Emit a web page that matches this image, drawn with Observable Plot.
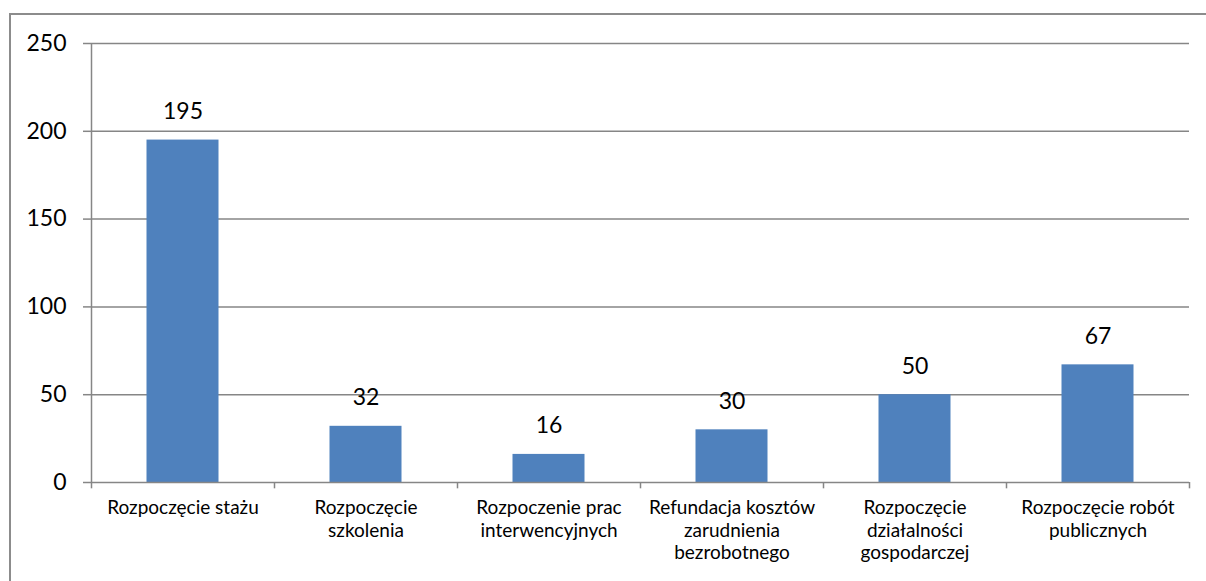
<!DOCTYPE html>
<html><head><meta charset="utf-8">
<script src="https://cdn.jsdelivr.net/npm/d3@7"></script>
<script src="https://cdn.jsdelivr.net/npm/@observablehq/plot@0.6"></script>
<style>
html,body{margin:0;padding:0;background:#fff;width:1206px;height:581px;overflow:hidden;}
#frame{position:absolute;left:9px;top:13px;width:1400px;height:800px;border-left:2px solid #8c8c8c;border-top:2px solid #8c8c8c;}
#chart{position:absolute;left:0;top:0;}
svg{font-family:Lato,"Open Sans",sans-serif;}
</style></head>
<body>
<div id="frame"></div>
<div id="chart"></div>
<script>
const categories = ["Rozpoczęcie stażu","Rozpoczęcie szkolenia","Rozpoczenie prac interwencyjnych","Refundacja kosztów zarudnienia bezrobotnego","Rozpoczęcie działalności gospodarczej","Rozpoczęcie robót publicznych"];
const tickLabels = ["Rozpoczęcie stażu","Rozpoczęcie\nszkolenia","Rozpoczenie prac\ninterwencyjnych","Refundacja kosztów\nzarudnienia\nbezrobotnego","Rozpoczęcie\ndziałalności\ngospodarczej","Rozpoczęcie robót\npublicznych"];
const values = [195, 32, 16, 30, 50, 67];
const yTicks = [0, 50, 100, 150, 200, 250];

const data = categories.map((c, i) => ({category: c, value: values[i]}));
const W = 1206, H = 581, mL = 91, mR = 17, mT = 43, mB = 99;
const bw = (W - mL - mR) / categories.length;
const gridColor = "#868686";

const chart = Plot.plot({
  width: W, height: H,
  marginLeft: mL, marginRight: mR, marginTop: mT, marginBottom: mB,
  style: {fontFamily: "Lato, 'Open Sans', sans-serif", color: "#000", background: "transparent"},
  x: {domain: categories, padding: 0, label: null},
  y: {domain: [0, 250], label: null},
  marks: [
    Plot.ruleY(yTicks.filter(d => d > 0), {stroke: gridColor, strokeWidth: 1.5}),
    Plot.barY(data, {x: "category", y: "value", fill: "#4F81BD", insetLeft: (bw - 72) / 2, insetRight: (bw - 72) / 2}),
    Plot.ruleY([0], {stroke: gridColor, strokeWidth: 1.5}),
    Plot.ruleX([categories[0]], {x: d => d, dx: -bw / 2, y1: 0, y2: 250, stroke: gridColor, strokeWidth: 1.5}),
    Plot.ruleX(categories, {x: d => d, dx: -bw / 2, y1: 0, y2: -3.6, stroke: gridColor, strokeWidth: 1.5}),
    Plot.ruleX([categories[categories.length - 1]], {x: d => d, dx: bw / 2, y1: 0, y2: -3.6, stroke: gridColor, strokeWidth: 1.5}),
    Plot.axisY({ticks: yTicks, tickSize: 8, tickPadding: 17, fontSize: 23, stroke: gridColor, strokeWidth: 1.5, strokeOpacity: 1, fill: "#000"}),
    Plot.axisX({tickSize: 0, tickPadding: 16, fontSize: 19, lineHeight: 1.17, tickFormat: d => tickLabels[categories.indexOf(d)], fill: "#000"}),
    Plot.text(data, {x: "category", y: "value", text: d => String(d.value), lineAnchor: "bottom", dy: -21, fontSize: 23, fill: "#000"})
  ]
});
document.getElementById("chart").appendChild(chart);
</script>
</body></html>
